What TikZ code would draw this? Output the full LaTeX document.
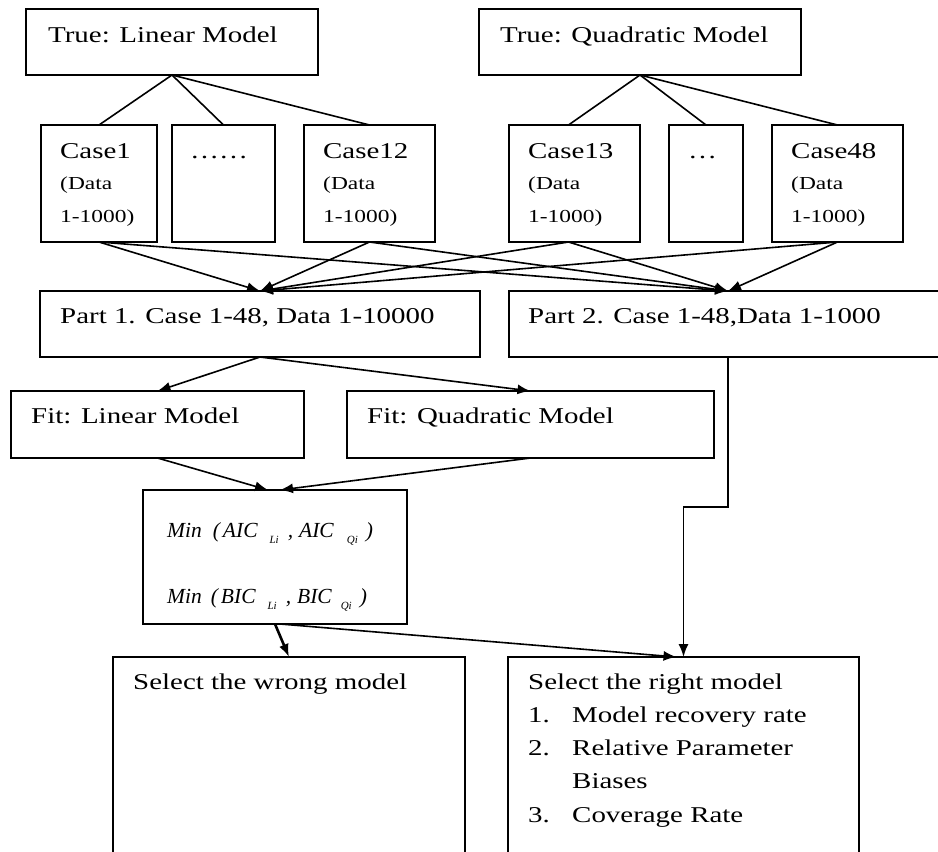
\documentclass[tikz,border=0pt]{standalone}
\usepackage{fontspec}
\setmainfont{Liberation Serif}[FakeStretch=1.28]
\newfontfamily\minfont{Liberation Serif}
\usetikzlibrary{arrows.meta,calc}
\begin{document}
\begin{tikzpicture}[x=1pt,y=-1pt,
  box/.style n args={2}{draw, line width=1.8pt, inner sep=0pt, outer sep=0pt,
     anchor=north west, minimum width=#1pt, minimum height=#2pt},
  txt/.style={anchor=base west, inner sep=0pt, font=\fontsize{22.6}{27}\selectfont},
  smalltxt/.style={anchor=base west, inner sep=0pt, font=\fontsize{18.3}{22}\selectfont},
  mintxt/.style={anchor=base west, inner sep=0pt, font=\minfont\itshape\fontsize{21.5}{25}\selectfont},
  link/.style={line width=1.6pt},
  arr/.style={line width=1.6pt, -{Latex[length=13pt,width=10pt]}},
  thickarr/.style={line width=2.6pt, -{Latex[length=13pt,width=10pt]}}
]
\useasboundingbox (0,0) rectangle (938,852);
\clip (0,0) rectangle (938,852);
\newcommand{\sbx}[1]{\raisebox{-6pt}{\fontsize{11}{13}\selectfont #1}}

% boxes
\node[box={292}{66}] (tl) at (26,9) {};
\node[box={322}{66}] (tq) at (479,9) {};
\node[box={116}{117}] (c1) at (41,125) {};
\node[box={103}{117}] (d1) at (172,125) {};
\node[box={131}{117}] (c12) at (304,125) {};
\node[box={131}{117}] (c13) at (509,125) {};
\node[box={74}{117}] (d2) at (669,125) {};
\node[box={131}{117}] (c48) at (772,125) {};
\node[box={440}{66}] (p1) at (40,291) {};
\node[box={438}{66}] (p2) at (509,291) {};
\node[box={293}{67}] (fl) at (11,391) {};
\node[box={367}{67}] (fq) at (347,391) {};
\node[box={264}{134}] (mn) at (143,490) {};
\node[box={352}{230}] (sw) at (113,657) {};
\node[box={351}{230}] (sr) at (508,657) {};

% texts
\node[txt] (ttl) at (48,42) {True: Linear Model};
\node[txt] (ttq) at (500,42) {True: Quadratic Model};
\node[txt] (tc1) at (60,158) {Case1};
\node[smalltxt] (tc1a) at (60,189) {(Data};
\node[smalltxt] (tc1b) at (60,222) {1-1000)};
\node[txt] (td1) at (190,158) {……};
\node[txt] (tc12) at (323,158) {Case12};
\node[smalltxt] (tc12a) at (323,189) {(Data};
\node[smalltxt] (tc12b) at (323,222) {1-1000)};
\node[txt] (tc13) at (528,158) {Case13};
\node[smalltxt] (tc13a) at (528,189) {(Data};
\node[smalltxt] (tc13b) at (528,222) {1-1000)};
\node[txt] (td2) at (688,158) {…};
\node[txt] (tc48) at (791,158) {Case48};
\node[smalltxt] (tc48a) at (791,189) {(Data};
\node[smalltxt] (tc48b) at (791,222) {1-1000)};
\node[txt] (tp1) at (60,323) {Part 1. Case 1-48, Data 1-10000};
\node[txt] (tp2) at (528,323) {Part 2. Case 1-48,Data 1-1000};
\node[txt] (tfl) at (31,423) {Fit: Linear Model};
\node[txt] (tfq) at (367,423) {Fit: Quadratic Model};
\node[mintxt] (tm1) at (167,537) {Min\hspace{11pt}(\hspace{3pt}AIC\hspace{12pt}\sbx{Li}\hspace{9pt},\hspace{6pt}AIC\hspace{13pt}\sbx{Qi}\hspace{8pt})};
\node[mintxt] (tm2) at (167,603) {Min\hspace{9pt}(\hspace{3pt}BIC\hspace{12pt}\sbx{Li}\hspace{9pt},\hspace{6pt}BIC\hspace{9pt}\sbx{Qi}\hspace{8pt})};
\node[txt] (tsw) at (133,689) {Select the wrong model};
\node[txt] (tsr) at (528,689) {Select the right model};
\node[txt] (tn1) at (528,722) {1.};
\node[txt] (tl1) at (572,722) {Model recovery rate};
\node[txt] (tn2) at (528,755) {2.};
\node[txt] (tl2) at (572,755) {Relative Parameter};
\node[txt] (tl2b) at (572,788) {Biases};
\node[txt] (tn3) at (528,822) {3.};
\node[txt] (tl3) at (572,822) {Coverage Rate};

% tree links
\draw[link] (c1.north) -- (tl.south) -- (d1.north);
\draw[link] (tl.south) -- (c12.north);
\draw[link] ($(c13.north)+(-6,0)$) -- (tq.south) -- (d2.north);
\draw[link] (tq.south) -- (c48.north);

% cases to parts
\foreach \c in {c1,c12,c48} {
  \draw[arr] (\c.south) -- (p1.north);
  \draw[arr] (\c.south) -- (p2.north);
}
\draw[arr] ($(c13.south)+(-6,0)$) -- (p1.north);
\draw[arr] ($(c13.south)+(-6,0)$) -- (p2.north);

% part 1 to fits
\draw[arr] (p1.south) -- (fl.north);
\draw[arr] (p1.south) -- (fq.north);

% fits to min
\draw[arr] (fl.south) -- ($(mn.north)+(-7,0)$);
\draw[arr] (fq.south) -- ($(mn.north)+(5,0)$);

% min to selections
\draw[thickarr] (mn.south) -- (sw.north);
\draw[arr] ($(mn.south)+(5,0)$) -- ($(sr.north)+(-7,0)$);

% part 2 to right model
\draw[arr] (p2.south) -- ++(0,150) -| (sr.north);
\end{tikzpicture}
\end{document}
